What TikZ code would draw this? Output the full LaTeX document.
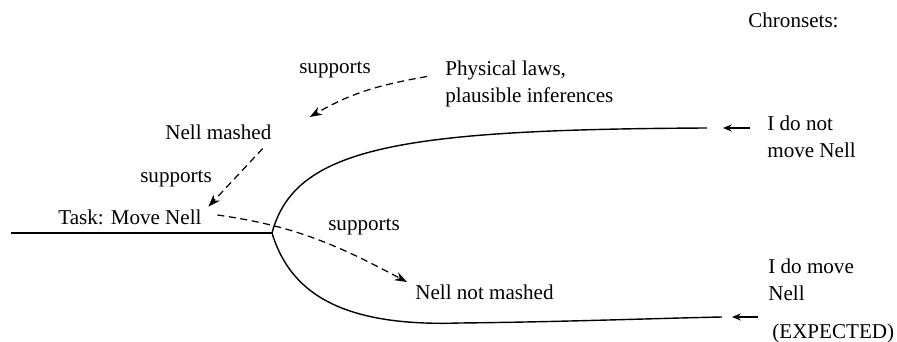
\documentclass[tikz,border=0pt]{standalone}
\usepackage{fontspec}
\setmainfont{Liberation Serif}
\usetikzlibrary{arrows.meta}
\tikzset{
every node/.style={ % Plain text, no frame
inner sep=0pt,
font=\fontsize{12}{15.3}\selectfont},
txt/.style={anchor=west, align=left}, % Labels placed by their left edge
branch/.style={line width=0.8pt}, % Time lines
support/.style={ % Dashed support links
draw,
dash pattern=on 4pt off 2.6pt,
line width=0.7pt,
-{Stealth[length=7pt,width=5pt]}},
pointer/.style={ % Small arrows at the chronset ends
draw,
line width=0.7pt,
-{Stealth[length=5pt,width=4pt]}}}

\begin{document}
\begin{tikzpicture}
\useasboundingbox (0,0) rectangle (17.94,6.84);
\coordinate (start) at (0.22,2.18);
\coordinate (fork) at (5.44,2.18);
\coordinate (upend) at (14.14,4.28);
\coordinate (lowend) at (14.44,0.5);
\draw[branch] (start) -- (fork);
\draw[branch] (fork) .. controls (5.9,3.9) and (8.0,4.25) .. (upend);
\draw[branch] (fork) .. controls (5.8,1.0) and (6.8,0.3) .. (9.2,0.38) .. controls (11.2,0.4) and (13,0.47) .. (lowend);
\node[txt] (chron) at (14.96,6.44) {Chronsets:};
\node[txt, anchor=north west] (phys) at (8.9,5.63) {Physical laws,\\plausible inferences};
\node[txt] (mashed) at (3.3,4.2) {Nell mashed};
\node[txt] (task) at (1.16,2.5) {Task: Move Nell};
\node[txt] (notmashed) at (8.3,1.0) {Nell not mashed};
\node[txt] (nomove) at (15.34,4.11) {I do not\\move Nell};
\node[txt] (domove) at (15.36,1.24) {I do move\\Nell};
\node[txt] (expected) at (15.44,0.18) {(EXPECTED)};
\node (supA) at (6.7,5.44) {supports};
\node (supB) at (3.52,3.26) {supports};
\node (supC) at (7.28,2.3) {supports};
\draw ([xshift=-0.36cm,yshift=-0.32cm]phys.north west) edge[support, out=190, in=30] ([xshift=0.76cm,yshift=0.3cm]mashed.east);
\draw ([xshift=-0.18cm,yshift=-0.175cm]mashed.south east) edge[support] ([xshift=0.13cm,yshift=0.05cm]task.north east);
\draw ([xshift=0.31cm,yshift=0.04cm]task.east) edge[support, out=-8, in=152] ([xshift=-0.16cm,yshift=0.2cm]notmashed.west);
\draw ([xshift=0.86cm]upend) edge[pointer] ([xshift=0.32cm]upend);
\draw ([xshift=0.72cm]lowend) edge[pointer] ([xshift=0.2cm]lowend);
\end{tikzpicture}
\end{document}
